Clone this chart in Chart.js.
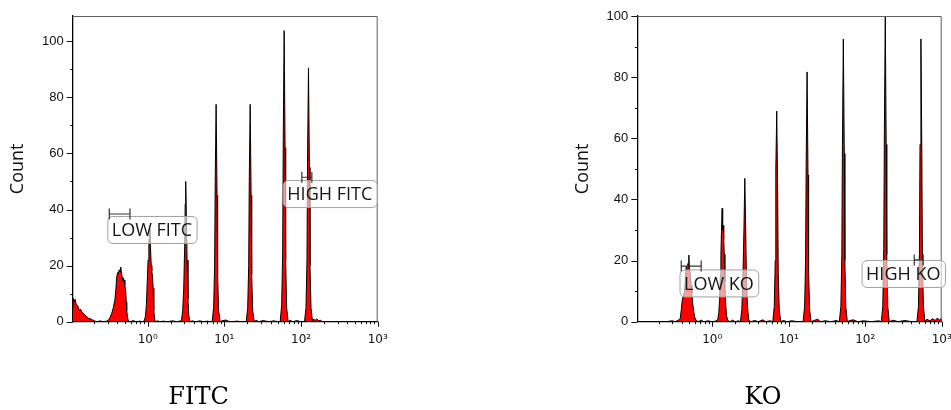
<!DOCTYPE html>
<html>
<head>
<meta charset="utf-8">
<script src="https://cdn.jsdelivr.net/npm/chart.js@4.4.0/dist/chart.umd.min.js"></script>
<style>
body { margin: 0; background: #fff; width: 951px; height: 410px; overflow: hidden; position: relative; }
#fitcBox { position: absolute; left: 0; top: 0; width: 397px; height: 410px; }
#koBox { position: absolute; left: 575px; top: 0; width: 376px; height: 410px; }
</style>
</head>
<body>
<div id="fitcBox"><canvas id="fitcChart" width="397" height="410" style="width:397px;height:410px"></canvas></div>
<div id="koBox"><canvas id="koChart" width="376" height="410" style="width:376px;height:410px"></canvas></div>
<script>
// FITC histogram (left panel)
var fitcX = [
    0.105, 0.107, 0.110, 0.113, 0.117, 0.121, 0.124, 0.128, 0.132, 0.138, 0.144, 0.152, 0.160, 0.170, 0.180, 0.192, 0.205, 0.22, 0.24, 0.26, 0.29,
    0.306, 0.322, 0.339, 0.356, 0.374, 0.385, 0.394, 0.405, 0.414, 0.425, 0.435, 0.444, 0.452, 0.462, 0.471, 0.481, 0.491, 0.503, 0.516, 0.525, 0.532, 0.545, 0.559, 0.59, 0.65, 0.70, 0.78, 0.85,
    0.90, 0.935, 0.96, 0.985, 1.01, 1.035, 1.055, 1.07, 1.085, 1.11, 1.13, 1.155, 1.175, 1.20, 1.23, 1.26, 1.35, 1.45, 1.6, 1.8, 2.1, 2.4, 2.7,
    2.74, 2.86, 2.95, 3.04, 3.08, 3.13, 3.19, 3.26, 3.35, 3.44, 3.56, 3.8, 4.2, 4.8, 5.3, 6.0, 6.5,
    6.92, 7.24, 7.46, 7.59, 7.80, 8.02, 8.16, 8.41, 8.80, 9.3, 10.5, 11.2, 12.5, 14.5, 17,
    19.25, 20.14, 20.75, 21.11, 21.7, 22.31, 22.70, 23.39, 24.48, 26, 28, 32, 38, 44, 50,
    53.4, 55.9, 57.6, 58.6, 60.2, 61.9, 63.0, 64.9, 67.9, 72, 78, 88, 100,
    110.9, 116.0, 119.5, 121.6, 125, 128.5, 130.8, 134.8, 141, 146, 152, 160, 170, 180, 190, 1000
];
var fitcCount = [
    4, 8.3, 7, 8, 6, 5.8, 5.3, 4, 4.5, 3.6, 3, 2.4, 1.8, 1.2, 1.0, 0.6, 0.2, 0, 0.3, 0, 0.2,
    0.5, 1.5, 3, 5, 8, 12, 16, 17.5, 17, 18.5, 17.8, 19.5, 18, 16, 14.5, 15.5, 14.8, 13, 11, 7, 4, 1.5, 0.3, 0, 0.4, 0, 0.2, 0,
    0.3, 2, 6, 14, 22, 28, 31, 33, 27, 20, 18, 16, 12, 4, 1, 0, 0.3, 0, 0.2, 0, 0.3, 0, 0.3,
    0, 4, 12, 28, 42, 50, 38, 22, 8, 2, 0, 0.3, 0, 0.3, 0, 0.2, 0,
    0, 5, 20, 50, 77.5, 45, 17, 4, 0, 0.3, 0.6, 0.2, 0, 0.2, 0,
    0, 5, 20, 50, 77.5, 45, 17, 4, 0, 0.5, 0, 0.4, 0, 0.3, 0,
    0, 6, 25, 65, 103.8, 62, 22, 5, 0, 0.5, 0, 0.4, 0,
    0, 5, 22, 58, 90.5, 55, 20, 5, 0, 1, 0.4, 1, 0.3, 0.5, 0, 0
];

// KO histogram (right panel)
var koX = [
    0.104, 0.25, 0.30, 0.33, 0.36, 0.382, 0.395, 0.406, 0.42, 0.435, 0.447, 0.457, 0.47, 0.481, 0.488, 0.495, 0.505, 0.517, 0.53, 0.542, 0.556, 0.570, 0.59, 0.618, 0.66, 0.72, 0.78, 0.88, 1.0, 1.10,
    1.18, 1.22, 1.25, 1.28, 1.30, 1.33, 1.35, 1.37, 1.39, 1.415, 1.44, 1.465, 1.49, 1.54, 1.60, 1.7, 1.85, 2.0, 2.2,
    2.34, 2.44, 2.52, 2.60, 2.67, 2.73, 2.80, 2.89, 3.01, 3.2, 3.6, 4.0, 4.6, 5.0, 5.7,
    6.19, 6.48, 6.67, 6.79, 6.98, 7.18, 7.30, 7.52, 7.87, 8.5, 9.5, 11, 13,
    15.43, 16.15, 16.63, 16.93, 17.4, 17.89, 18.20, 18.76, 19.63, 22, 24, 26, 30, 36, 42,
    45.9, 48.1, 49.5, 50.4, 51.8, 53.3, 54.2, 55.8, 58.4, 63, 70, 80, 95, 120, 150,
    162.3, 169.8, 175.0, 178.1, 183, 188.1, 191.4, 197.3, 206.4, 230, 270, 330, 400, 450,
    474.5, 496.5, 511.5, 520.6, 535, 550, 559.6, 576.7, 603.5, 640, 700, 760, 820, 880, 930, 980, 1000
];
var koCount = [
    0, 0, 0.3, 0, 0.5, 1, 4, 7, 8.5, 10, 14, 18, 17, 19, 18, 21.8, 17, 15.8, 12, 9.3, 6, 3.8, 1.5, 0.4, 0, 0.5, 0, 0.3, 0, 0.2,
    0.5, 3, 7, 15, 22, 32, 37.1, 30, 31.5, 27, 22, 13, 7, 2, 0.4, 0, 0.5, 0, 0.3,
    0, 4, 14, 30, 46.9, 33, 15, 5, 0.5, 0, 0.4, 0, 0.6, 0, 0.3,
    0, 5, 20, 50, 68.9, 42, 16, 4, 0, 0.4, 0, 0.3, 0,
    0, 5, 20, 52, 81.7, 48, 17, 4, 0, 0.5, 0.8, 0, 0.3, 0, 0.4,
    0, 5, 22, 58, 92.5, 55, 20, 5, 0, 0.4, 0.6, 0, 0.3, 0, 0.3,
    0, 5, 24, 62, 100, 58, 22, 5, 0, 0.5, 0, 0.4, 0, 0,
    0, 5, 22, 58, 92.5, 55, 20, 5, 0, 0.8, 0.3, 1, 0.4, 1.2, 0.5, 1, 0
];

// axes
var xTickValues = [0.2, 0.3, 0.4, 0.5, 0.6, 0.7, 0.8, 0.9, 1, 2, 3, 4, 5, 6, 7, 8, 9, 10, 20, 30, 40, 50, 60, 70, 80, 90, 100, 200, 300, 400, 500, 600, 700, 800, 900, 1000];
var xMajorValues = [1, 10, 100, 1000];
var xMajorLabels = ['10⁰', '10¹', '10²', '10³'];
var yTickValues = [0, 10, 20, 30, 40, 50, 60, 70, 80, 90, 100];

// gates: [from, to] along x, drawn at a count level
var fitcGates = [{from: 0.315, to: 0.587, at: 38.4}, {from: 102.4, to: 138.4, at: 51.5}];
var koGates = [{from: 0.394, to: 0.718, at: 18.2}, {from: 437.5, to: 573, at: 20.2}];
var fitcGateNames = ['LOW FITC', 'HIGH FITC'];
var koGateNames = ['LOW KO', 'HIGH KO'];

var panelPlugin = {
    id: 'panel',
    afterDatasetsDraw: function(chart, args, opts) {
        var ctx = chart.ctx, a = chart.chartArea, xs = chart.scales.x, ys = chart.scales.y;
        ctx.save();
        // top and right frame
        ctx.strokeStyle = '#5e5e5e';
        ctx.lineWidth = 1;
        ctx.beginPath();
        ctx.moveTo(a.left, a.top + 0.5);
        ctx.lineTo(a.right - 0.5, a.top + 0.5);
        ctx.lineTo(a.right - 0.5, a.bottom);
        ctx.stroke();

        // tick marks
        ctx.strokeStyle = '#111';
        ctx.beginPath();
        xs.ticks.forEach(function(t) {
            var px = Math.round(xs.getPixelForValue(t.value)) + 0.5;
            var len = xMajorValues.indexOf(t.value) >= 0 ? 5 : 2.5;
            ctx.moveTo(px, a.bottom);
            ctx.lineTo(px, a.bottom + len);
        });
        ys.ticks.forEach(function(t) {
            var py = Math.round(ys.getPixelForValue(t.value)) + 0.5;
            var len = t.value % 20 === 0 ? 6 : 2.5;
            ctx.moveTo(a.left - len, py);
            ctx.lineTo(a.left, py);
        });
        ctx.stroke();

        // gate label boxes
        ctx.font = '18px "Open Sans"';
        ctx.textBaseline = 'middle';
        opts.labels.forEach(function(l) {
            var bx = xs.getPixelForValue(l.x), by = ys.getPixelForValue(l.y);
            var w = ctx.measureText(l.text).width + 9, h = 27;
            ctx.beginPath();
            ctx.roundRect(bx + 0.5, by + 0.5, w, h, 5);
            ctx.fillStyle = 'rgba(255,255,255,0.62)';
            ctx.fill();
            ctx.strokeStyle = '#a0a0a0';
            ctx.stroke();
            ctx.fillStyle = '#141414';
            ctx.fillText(l.text, bx + 4.5, by + h / 2 + 1.5);
        });

        // gate bars
        ctx.strokeStyle = '#333';
        ctx.lineWidth = 1.2;
        opts.gates.forEach(function(g) {
            var x1 = xs.getPixelForValue(g.from), x2 = xs.getPixelForValue(g.to), y = ys.getPixelForValue(g.at);
            ctx.beginPath();
            ctx.moveTo(x1, y); ctx.lineTo(x2, y);
            ctx.moveTo(x1, y - 5.5); ctx.lineTo(x1, y + 5.5);
            ctx.moveTo(x2, y - 5.5); ctx.lineTo(x2, y + 5.5);
            ctx.stroke();
        });
        ctx.restore();
    }
};

function makeHistogram(id, xs, counts, s) {
    var points = [];
    for (var i = 0; i < xs.length; i++) {
        points.push({x: xs[i], y: counts[i]});
    }
    return new Chart(document.getElementById(id), {
        type: 'line',
        data: {
            datasets: [{
                data: points,
                borderColor: '#000',
                borderWidth: 1,
                backgroundColor: '#ff0000',
                fill: 'origin',
                pointRadius: 0,
                tension: 0
            }]
        },
        options: {
            responsive: false,
            animation: false,
            devicePixelRatio: 1,
            layout: {padding: {top: 16, left: 0, right: 0, bottom: 0}},
            plugins: {
                legend: {display: false},
                tooltip: {enabled: false},
                title: {
                    display: true,
                    text: s.caption,
                    position: 'bottom',
                    color: '#000',
                    font: {family: 'DejaVu Serif', size: 24, weight: 'normal', lineHeight: 1},
                    padding: {top: 0, bottom: 0}
                },
                panel: {gates: s.gates, labels: s.labels}
            },
            scales: {
                x: {
                    type: 'logarithmic',
                    min: 0.105,
                    max: 1000,
                    border: {display: true, color: '#000', width: 1.3},
                    grid: {display: false, drawTicks: true, tickLength: 5},
                    ticks: {
                        autoSkip: false,
                        maxRotation: 0,
                        padding: 6,
                        color: '#111',
                        font: {family: 'DejaVu Sans', size: 12},
                        callback: function(v) {
                            var k = xMajorValues.indexOf(v);
                            return k >= 0 ? xMajorLabels[k] : '';
                        }
                    },
                    afterBuildTicks: function(scale) {
                        scale.ticks = xTickValues.map(function(v) { return {value: v}; });
                    },
                    afterFit: function(scale) {
                        scale.height = 64.3;
                        scale.paddingLeft = 0;
                        scale.paddingRight = s.rightGap;
                    }
                },
                y: {
                    min: 0,
                    max: s.yMax,
                    border: {display: true, color: '#000', width: 1.3},
                    grid: {display: false, drawTicks: true, tickLength: 6},
                    ticks: {
                        autoSkip: false,
                        padding: 3,
                        color: '#111',
                        font: {family: 'Liberation Sans', size: 13},
                        callback: function(v) { return v % 20 === 0 ? String(v) : ''; }
                    },
                    title: {
                        display: true,
                        text: 'Count',
                        color: '#111',
                        font: {family: 'Open Sans', size: 18, lineHeight: 1},
                        padding: {top: s.countPad, bottom: 0}
                    },
                    afterBuildTicks: function(scale) {
                        scale.ticks = yTickValues.map(function(v) { return {value: v}; });
                    },
                    afterFit: function(scale) {
                        scale.width = s.yWidth;
                        scale.paddingTop = 0;
                        scale.paddingBottom = 0;
                    }
                }
            }
        },
        plugins: [panelPlugin]
    });
}

var fitcChart = makeHistogram('fitcChart', fitcX, fitcCount, {
    caption: 'FITC',
    yMax: 109,
    yWidth: 72.7,
    rightGap: 19.3,
    countPad: 9.3,
    gates: fitcGates,
    labels: [
        {text: fitcGateNames[0], x: 0.297, y: 37.7},
        {text: fitcGateNames[1], x: 57.9, y: 50.5}
    ]
});

var koChart = makeHistogram('koChart', koX, koCount, {
    caption: 'KO',
    yMax: 100,
    yWidth: 62.3,
    rightGap: 9.3,
    countPad: -1.5,
    gates: koGates,
    labels: [
        {text: koGateNames[0], x: 0.374, y: 17.1},
        {text: koGateNames[1], x: 89.7, y: 20.2}
    ]
});
</script>
</body>
</html>
